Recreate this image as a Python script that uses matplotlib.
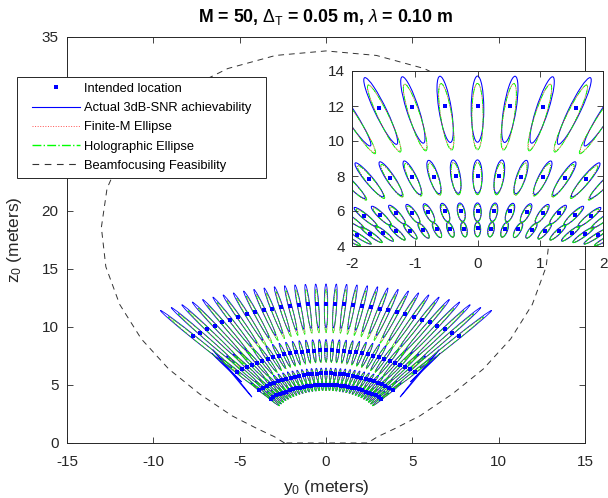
import numpy as np
import matplotlib
matplotlib.use('Agg')
import matplotlib.pyplot as plt
from matplotlib.patches import Ellipse
from matplotlib.collections import PatchCollection
from matplotlib.lines import Line2D
from matplotlib.legend_handler import HandlerLine2D

plt.rcParams['font.family'] = ['Liberation Sans', 'DejaVu Sans']
plt.rcParams['mathtext.fontset'] = 'custom'
plt.rcParams['mathtext.rm'] = 'Liberation Sans'
plt.rcParams['mathtext.it'] = 'Liberation Sans:italic'
plt.rcParams['mathtext.bf'] = 'Liberation Sans:bold'
plt.rcParams['axes.unicode_minus'] = False

#%% data

# intended focal points: rings of constant range, steered in 2.5 deg steps
ring_r = [5.0, 6.0, 8.0, 12.0]
steer_deg = [-40.0, -37.5, -35.0, -32.5, -30.0, -27.5, -25.0, -22.5, -20.0, -17.5,
             -15.0, -12.5, -10.0, -7.5, -5.0, -2.5, 0.0, 2.5, 5.0, 7.5, 10.0,
             12.5, 15.0, 17.5, 20.0, 22.5, 25.0, 27.5, 30.0, 32.5, 35.0, 37.5, 40.0]

# broadside ellipse shapes per ring (m): centre shift toward array, semi-axes
blue_off = [0.05, 0.06, 0.03, 0.18]
blue_a = [0.42, 0.52, 0.95, 1.89]
blue_b = [0.05, 0.06, 0.075, 0.10]

red_off = [0.07, 0.12, 0.14, 0.58]
red_a = [0.40, 0.49, 0.91, 1.87]
red_b = [0.045, 0.055, 0.068, 0.09]

green_off = [0.08, 0.13, 0.15, 0.61]
green_a = [0.40, 0.50, 0.92, 1.90]
green_b = [0.045, 0.055, 0.068, 0.09]

# stray, very long 3dB regions at the fan edges: centre y, centre z, semi-length, tilt
stray_y = [-5.42, -5.75, 5.42, 5.75]
stray_z = [6.00, 6.50, 6.00, 6.50]
stray_a = [2.32, 1.50, 2.32, 1.50]
stray_tilt = [29.0, 35.0, -29.0, -35.0]

# beamfocusing feasibility boundary
feas_y = [-2.4, -3.0, -4.0, -5.45, -7.32, -9.11, -10.70, -11.95, -12.75, -13.01,
          -12.68, -11.73, -10.21, -8.16, -5.69, -2.92, 0.0, 2.92, 5.69, 8.16,
          10.21, 11.73, 12.68, 13.01, 12.75, 11.95, 10.70, 9.11, 7.32, 5.45,
          4.0, 3.0, 2.4, -2.4]
feas_z = [0.0, 0.55, 1.25, 2.35, 4.23, 6.38, 8.98, 11.95, 15.19, 18.58,
          21.95, 25.16, 28.05, 30.46, 32.28, 33.41, 33.8, 33.41, 32.28, 30.46,
          28.05, 25.16, 21.95, 18.58, 15.19, 11.95, 8.98, 6.38, 4.23, 2.35,
          1.25, 0.55, 0.0, 0.0]

#%%

def ellipses(off, a, b):
    out = []
    for r, o, sa, sb in zip(ring_r, off, a, b):
        for th in steer_deg:
            t = np.radians(th)
            k = 1.0 / np.cos(t)
            rc = r - o * k**2
            out.append(Ellipse((rc * np.sin(t), rc * np.cos(t)),
                               2 * sb * k, 2 * sa * k**2, angle=-th))
    return out


def focal_points():
    P = [(r * np.sin(np.radians(th)), r * np.cos(np.radians(th)))
         for r in ring_r for th in steer_deg]
    return np.array(P)


def draw_fan(ax, ms, lw):
    ax.add_collection(PatchCollection(ellipses(blue_off, blue_a, blue_b),
                      facecolor='none', edgecolor='b', lw=lw))
    stray = [Ellipse((y, z), 0.06, 2 * a, angle=t)
             for y, z, a, t in zip(stray_y, stray_z, stray_a, stray_tilt)]
    ax.add_collection(PatchCollection(stray, facecolor='none', edgecolor='b', lw=lw))
    ax.add_collection(PatchCollection(ellipses(red_off, red_a, red_b),
                      facecolor='none', edgecolor='r', lw=lw * 0.85, linestyle=':'))
    ax.add_collection(PatchCollection(ellipses(green_off, green_a, green_b),
                      facecolor='none', edgecolor=(0, 1, 0), lw=lw * 0.85, linestyle='-.'))
    P = focal_points()
    ax.plot(P[:, 0], P[:, 1], 's', color='b', ms=ms, mew=0, zorder=5)


def style(ax, xpad, ypad):
    ax.tick_params(direction='in', top=True, right=True, length=4, width=0.6,
                   labelsize=11, colors='0.15')
    ax.tick_params(axis='x', pad=xpad)
    ax.tick_params(axis='y', pad=ypad)
    for s in ax.spines.values():
        s.set_color('0.15')
        s.set_linewidth(0.7)


fig = plt.figure(figsize=(6.08, 4.98), dpi=100)

ax = fig.add_axes([67 / 608, 1 - 443 / 498, 518 / 608, 406 / 498])
draw_fan(ax, 2.8, 0.6)
ax.plot(feas_y, feas_z, color='0.2', lw=0.7, dashes=(6, 5))
ax.set_xlim(-15, 15)
ax.set_ylim(0, 35)
ax.set_xticks([-15, -10, -5, 0, 5, 10, 15])
ax.set_yticks([0, 5, 10, 15, 20, 25, 30, 35])
style(ax, 9, 6)
ax.set_xlabel('y$_0$ (meters)', fontsize=12.5, color='0.15', labelpad=6)
ax.set_ylabel('z$_0$ (meters)', fontsize=12.5, color='0.15', labelpad=13)
ax.set_title(r'M = 50, $\Delta_\mathrm{T}$ = 0.05 m, $\lambda$ = 0.10 m',
             fontsize=12.8, fontweight='bold', pad=11)

axi = fig.add_axes([352 / 608, 1 - 246 / 498, 251 / 608, 175 / 498])
draw_fan(axi, 3.2, 0.75)
axi.set_xlim(-2, 2)
axi.set_ylim(4, 14)
axi.set_xticks([-2, -1, 0, 1, 2])
axi.set_yticks([4, 6, 8, 10, 12, 14])
style(axi, 8, 5)

handles = [
    Line2D([], [], ls='none', marker='s', ms=2.8, mew=0, color='b'),
    Line2D([], [], color='b', lw=0.8),
    Line2D([], [], color='#ff5050', lw=0.7, ls=':'),
    Line2D([], [], color=(0, 1, 0), lw=1.0, ls='-.'),
    Line2D([], [], color='0.2', lw=0.8, dashes=(6, 5)),
]
labels = ['Intended location', 'Actual 3dB-SNR achievability', 'Finite-M Ellipse',
          'Holographic Ellipse', 'Beamfocusing Feasibility']
leg = fig.legend(handles, labels, loc='upper left',
                 bbox_to_anchor=(17 / 608, 1 - 176 / 498, 249 / 608, 99 / 498),
                 mode='expand', borderaxespad=0, fontsize=9.3,
                 handlelength=4.4, handletextpad=0.3, labelspacing=0.56,
                 borderpad=0.45, fancybox=False, framealpha=1,
                 handler_map={Line2D: HandlerLine2D(xpad=0.7)})
leg.get_frame().set_edgecolor('0.15')
leg.get_frame().set_linewidth(0.7)

fig.savefig('out.png', dpi=100)
